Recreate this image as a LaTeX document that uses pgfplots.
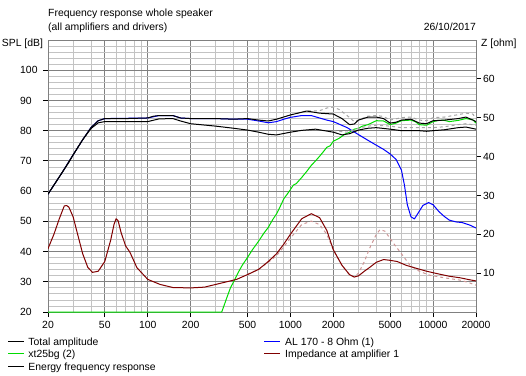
\documentclass[border=0pt]{standalone}
\usepackage{fontspec}
\setmainfont{Liberation Sans}
\usepackage{pgfplots}
\pgfplotsset{compat=1.18}
\definecolor{cgreen}{RGB}{0,220,0}
\definecolor{cblue}{RGB}{0,0,255}
\definecolor{cred}{RGB}{128,0,0}
\definecolor{cpink}{RGB}{205,150,150}
\definecolor{cgray}{RGB}{165,165,165}
\definecolor{gmin}{RGB}{195,195,195}
\definecolor{gmaj}{RGB}{128,128,128}
\newcommand\fsz{\fontsize{10.4bp}{12bp}\selectfont}
\begin{document}
\begin{tikzpicture}[x=1bp,y=1bp]
\path[use as bounding box] (0,0) rectangle (526,375);
\begin{axis}[
  at={(48bp,63bp)}, anchor=south west,
  scale only axis, width=428bp, height=272bp,
  xmode=log, xmin=20, xmax=20000, ymin=20, ymax=110,
  log basis x=10,
  xtick={20,50,100,200,500,1000,2000,5000,10000,20000},
  xticklabels={20,50,100,200,500,1000,2000,5000,10000,20000},
  minor xtick={30,40,60,70,80,90,300,400,600,700,800,900,3000,4000,6000,7000,8000,9000},
  ytick={20,30,...,100},
  minor ytick={22,24,...,108},
  grid=both,
  major grid style={draw=gmaj, line width=0.8bp},
  minor grid style={draw=gmin, line width=0.8bp},
  axis line style={draw=gmaj, line width=0.8bp},
  tick pos=left, tick align=outside,
  major tick length=5bp, minor tick length=0pt,
  every tick/.style={black, line width=0.8bp},
  tick label style={font=\fsz},
  /pgf/number format/assume math mode=true,
  yticklabel style={anchor=west, xshift=-23bp, inner sep=0pt},
  xticklabel style={inner sep=0pt, yshift=-4bp},
  every axis plot/.append style={line width=1bp, line join=round},
  clip=true,
]
% green tweeter
\addplot[cgreen] coordinates {
(20,20) (100,20) (200,20) (330,20) (345,22.5) (360,25) (380,28) (400,30) (430,33) (460,35.5) (500,38) (540,40.5) (600,43.5) (650,46) (700,48) (750,50.5) (800,52.5) (850,55) (900,57.5) (950,59) (1000,60.5) (1050,62) (1100,62.5) (1200,64.5) (1300,66.5) (1400,68.5) (1500,70) (1600,71.5) (1700,73) (1800,74.5) (1900,75) (2000,76.5) (2200,77.5) (2400,78.8) (2600,79.5) (2800,80.5) (3000,80.8) (3200,81.5) (3500,82) (3800,82.8) (4000,83.3) (4500,83.2) (5000,82) (5500,82.5) (6000,83.3) (7000,83.5) (7500,83) (8000,82) (9000,81.8) (10000,83) (11000,83.4) (12000,83.4) (13000,83) (15000,83.4) (17000,84) (19000,83.6) (20000,82.5)};
% blue woofer
\addplot[cblue] coordinates {
(20,59) (25,66) (30,72) (35,77) (40,81) (45,83.3) (50,84) (100,84.2) (120,85) (150,85) (170,84.2) (200,84) (300,84) (400,83.8) (500,83.8) (600,83.2) (700,82.6) (800,83) (900,83.8) (1000,84.4) (1200,85) (1400,85) (1600,84.2) (1800,83.5) (2000,83) (2500,81) (3000,78.7) (3500,76.8) (4000,75.2) (4500,73.8) (5000,72.3) (5500,70.5) (6000,67) (6300,62) (6600,55.5) (7000,51.5) (7400,50.8) (7800,52.5) (8500,55.3) (9300,56.2) (10000,55.5) (11000,53.2) (12000,51.6) (13000,50.4) (14500,49.8) (16000,49.6) (18000,48.8) (20000,47.8)};
% gray dashed overlays
\addplot[cgray, dashed] coordinates {
(1000,85.2) (1300,86.5) (1600,86.6) (1800,87.5) (2000,87.8) (2200,87) (2500,85) (2800,83) (3000,83.5) (3500,84.8) (4000,85) (4500,84.7) (5000,83.5) (6000,84.3) (7000,84.5) (8000,83.5) (9000,83.3) (10000,84.3) (12000,84.5) (15000,85.3) (17000,85.8) (19000,85.5) (20000,84)};
\addplot[cgray, dashed] coordinates {
(2000,80) (2500,79.5) (3000,80.8) (3500,81.5) (4000,81.8) (5000,81.5) (6000,81) (7000,81) (8000,81) (10000,81) (12000,81.3) (15000,82) (17000,82.3) (20000,81.8)};
% energy frequency response (lower black)
\addplot[black] coordinates {
(20,59) (25,66) (30,72) (35,77) (40,80.7) (45,82.6) (50,83) (70,83) (100,83) (120,83.9) (150,84) (170,83.2) (200,82.3) (300,81.5) (400,80.8) (500,80.2) (600,79.5) (700,78.8) (800,78.6) (1000,79.5) (1200,80.1) (1500,80.5) (2000,79.5) (2300,78.6) (2600,79) (3000,80.2) (3500,80.8) (4000,81) (5000,80.5) (6000,80) (7000,80) (8000,80) (9000,79.8) (10000,80) (12000,80.3) (15000,81) (17000,81.2) (20000,80.5)};
% total amplitude (upper black)
\addplot[black] coordinates {
(20,59) (22,62) (25,66) (28,69.5) (30,72) (35,77) (40,81) (45,83.3) (50,84) (70,84) (100,84.2) (110,84.8) (120,85) (150,85) (170,84.2) (200,84) (300,84) (400,83.8) (500,84) (600,83.5) (700,83.2) (800,83.8) (1000,85.2) (1300,86.5) (1600,85.8) (2000,85.5) (2300,84) (2600,82) (2800,82.2) (3000,83.5) (3500,84.5) (4000,84.5) (4500,84) (5000,82.5) (5500,82.8) (6000,83.5) (7000,83.8) (8000,82.5) (9000,82.3) (10000,83.3) (12000,83.5) (15000,84) (17000,84.5) (19000,83.5) (20000,83)};
\end{axis}
\begin{axis}[
  at={(48bp,63bp)}, anchor=south west,
  scale only axis, width=428bp, height=272bp,
  xmode=log, xmin=20, xmax=20000, ymin=0, ymax=70,
  axis x line=none, axis y line*=right,
  ytick={10,20,...,60},
  axis line style={draw=gmaj, line width=0.8bp},
  tick align=outside,
  major tick length=5bp, minor tick length=0pt,
  every tick/.style={black, line width=0.8bp},
  tick label style={font=\fsz},
  /pgf/number format/assume math mode=true,
  yticklabel style={inner sep=0pt, xshift=2bp},
  every axis plot/.append style={line width=1bp, line join=round},
]
\addplot[cpink, dashed] coordinates {
(500,9.7) (600,11) (700,12.8) (800,14.5) (900,16.8) (1000,19) (1200,22.5) (1400,23.4) (1600,22.5) (1800,20) (2000,16) (2300,12) (2600,9.5) (2800,9) (3000,10) (3300,13) (3600,16.5) (4000,20) (4250,21.2) (4600,20.8) (5300,17.6) (6000,15) (6900,12) (8000,10.5) (9400,9.5) (12000,8.8) (15500,8.2) (18000,7.5) (20000,6.9)};
\addplot[cred] coordinates {
(20,16.3) (22,20) (24,24) (26,27.3) (27,27.4) (28,27) (30,24.5) (32,20.5) (35,15) (38,11.5) (41,10.2) (45,10.5) (50,13) (55,18.5) (58,22.5) (60,24) (62,23.5) (65,20.5) (70,17) (75,15.4) (84,11.4) (100,8.4) (122,7.1) (150,6.3) (200,6.2) (250,6.4) (300,7.1) (420,8.4) (520,9.9) (600,11) (700,13) (800,15) (900,17.5) (1000,20) (1200,24) (1400,25.3) (1600,24.3) (1800,21) (2000,16) (2300,12) (2600,9.6) (2800,9) (3000,9.3) (3300,10.5) (3600,11.5) (4000,12.8) (4500,13.5) (5000,13.3) (5600,13) (6500,12) (7700,11.2) (9000,10.5) (10600,9.9) (13000,9.2) (15500,8.8) (18000,8.3) (20000,8)};
\end{axis}
% titles
\node[font=\fsz, anchor=base west, inner sep=0] at (48,358.3) {Frequency response whole speaker};
\node[font=\fsz, anchor=base west, inner sep=0] at (48,344.3) {(all amplifiers and drivers)};
\node[font=\fsz, anchor=base east, inner sep=0] at (476,344.3) {26/10/2017};
\node[font=\fsz, anchor=base west, inner sep=0] at (1.7,328.3) {SPL [dB]};
\node[font=\fsz, anchor=base west, inner sep=0] at (481,328.3) {Z [ohm]};
% legend
\draw[draw=black, line width=1bp] (8,33.3) -- (24,33.3);
\node[font=\fsz, anchor=base west, inner sep=0] at (28.3,30) {Total amplitude};
\draw[draw=cgreen, line width=1bp] (8,21.7) -- (24,21.7);
\node[font=\fsz, anchor=base west, inner sep=0] at (28.3,17.7) {xt25bg (2)};
\draw[draw=black, line width=1bp] (8,8.3) -- (24,8.3);
\node[font=\fsz, anchor=base west, inner sep=0] at (28.3,4.3) {Energy frequency response};
\draw[draw=cblue, line width=1bp] (264.3,33.3) -- (280,33.3);
\node[font=\fsz, anchor=base west, inner sep=0] at (285,30) {AL 170 - 8 Ohm (1)};
\draw[draw=cred, line width=1bp] (264.3,21.7) -- (280,21.7);
\node[font=\fsz, anchor=base west, inner sep=0] at (285,17.7) {Impedance at amplifier 1};
\end{tikzpicture}
\end{document}
